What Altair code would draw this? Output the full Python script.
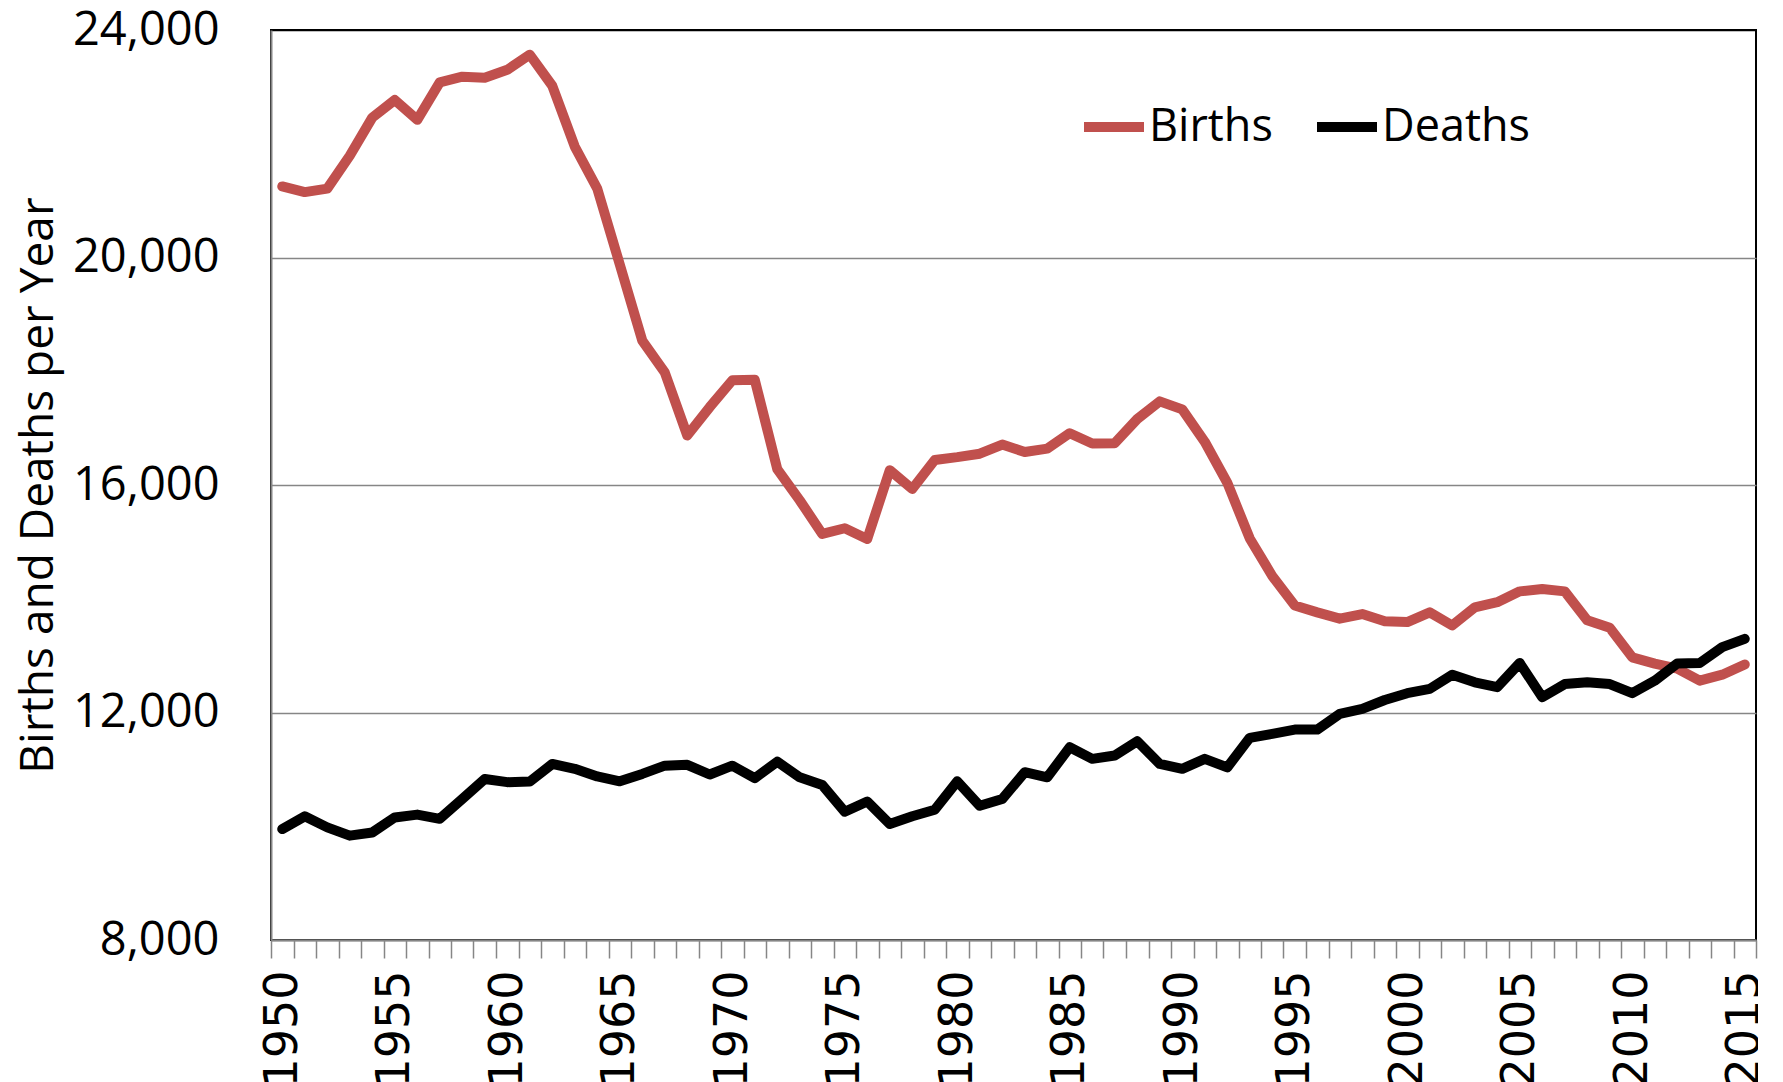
import altair as alt
import pandas as pd

years = list(range(1950, 2016))

births = [21250, 21150, 21210, 21790, 22460, 22770, 22420, 23080, 23180, 23160,
          23300, 23566, 23020, 21950, 21210, 19880, 18540, 17980, 16870, 17370,
          17840, 17850, 16280, 15730, 15140, 15240, 15050, 16260, 15930, 16440,
          16490, 16550, 16710, 16580, 16640, 16910, 16730, 16735, 17160, 17470,
          17330, 16760, 16040, 15060, 14400, 13880, 13760, 13650, 13730, 13605,
          13590, 13760, 13530, 13850, 13940, 14130, 14170, 14130, 13620, 13490,
          12970, 12860, 12770, 12560, 12665, 12845]

deaths = [9950, 10175, 9980, 9835, 9890, 10155, 10205, 10130, 10480, 10830,
          10775, 10785, 11095, 11010, 10875, 10790, 10920, 11065, 11080, 10910,
          11065, 10845, 11135, 10860, 10725, 10255, 10435, 10040, 10175, 10290,
          10790, 10360, 10480, 10950, 10860, 11390, 11185, 11245, 11495, 11095,
          11010, 11185, 11035, 11555, 11625, 11700, 11700, 11975, 12065, 12220,
          12340, 12415, 12665, 12530, 12445, 12870, 12268, 12500, 12530, 12500,
          12340, 12560, 12860, 12870, 13150, 13295]

series_names = ["Births", "Deaths"]
series_colors = ["#C0504D", "#000000"]

y_ticks = [8000, 12000, 16000, 20000, 24000]
x_tick_values = [y - 0.5 for y in years] + [years[-1] + 0.5]

df = pd.DataFrame({
    "Year": years * 2,
    "Value": births + deaths,
    "Series": ["Births"] * len(years) + ["Deaths"] * len(years),
})

W = 1485
H = 910
half_cat = W / len(years) / 2

chart = alt.Chart(df).mark_line(
    strokeWidth=10, strokeCap="round", strokeJoin="round"
).encode(
    x=alt.X(
        "Year:Q",
        scale=alt.Scale(domain=[years[0] - 0.5, years[-1] + 0.5], nice=False, zero=False),
        axis=alt.Axis(
            values=x_tick_values,
            labelExpr="(datum.value + 0.5) % 5 === 0 ? toString(datum.value + 0.5) : ''",
            labelAngle=270,
            labelOffset=half_cat,
            labelFont="DejaVu Sans",
            labelFontSize=46,
            labelColor="#000000",
            labelPadding=12,
            labelOverlap=False,
            labelFlush=False,
            labelBound=False,
            tickSize=18,
            tickColor="#868686",
            tickWidth=1.5,
            domainColor="#868686",
            domainWidth=2,
            grid=False,
            title=None,
        ),
    ),
    y=alt.Y(
        "Value:Q",
        scale=alt.Scale(domain=[8000, 24000], nice=False, zero=False),
        axis=alt.Axis(
            values=y_ticks,
            format=",.0f",
            labelFont="Open Sans",
            labelFontSize=47,
            labelColor="#000000",
            labelPadding=52,
            ticks=False,
            tickSize=0,
            domainColor="#868686",
            domainWidth=2,
            grid=True,
            gridColor={"condition": {"test": "datum.value === 24000", "value": "#000000"},
                       "value": "#868686"},
            gridWidth=1.5,
            title="Births and Deaths per Year",
            titleFont="Open Sans",
            titleFontSize=46,
            titleFontWeight="normal",
            titleColor="#000000",
            titleAngle=270,
            titleAlign="center",
            titleBaseline="middle",
            titleX=-233,
            titleY=H / 2,
        ),
    ),
    color=alt.Color(
        "Series:N",
        scale=alt.Scale(domain=series_names, range=series_colors),
        legend=alt.Legend(
            orient="none",
            legendX=808,
            legendY=62,
            direction="horizontal",
            title=None,
            symbolType="stroke",
            symbolSize=3600,
            symbolStrokeWidth=10,
            labelFont="Open Sans",
            labelFontSize=45,
            labelColor="#000000",
            labelOffset=0,
            columnPadding=24,
            padding=0,
        ),
    ),
).properties(
    width=W,
    height=H,
    autosize=alt.AutoSizeParams(type="none"),
    padding={"left": 263, "top": 22, "right": 2, "bottom": 150},
).configure_view(
    stroke="#000000",
    strokeWidth=2,
)

chart.save("out.html", embed_options={"renderer": "svg", "actions": False})
